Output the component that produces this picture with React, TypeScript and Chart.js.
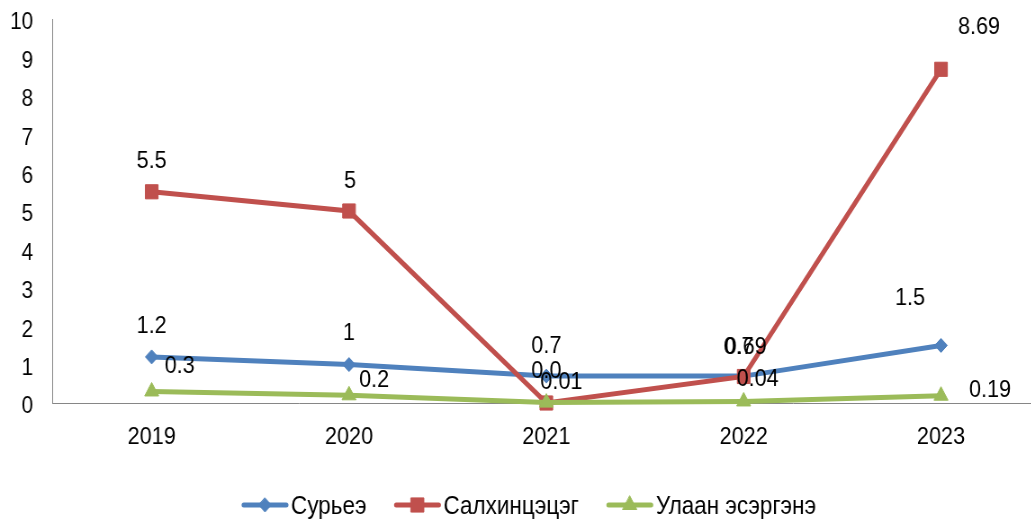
import React, { useEffect, useRef } from 'react';
import { Chart, registerables } from 'chart.js';

Chart.register(...registerables);

// ---- data ----
const years = ['2019', '2020', '2021', '2022', '2023'];
const seriesNames = ['Сурьеэ', 'Салхинцэцэг', 'Улаан эсэргэнэ'];
const suryee = [1.2, 1, 0.7, 0.7, 1.5];
const salkhinTsetseg = [5.5, 5, 0.0, 0.69, 8.69];
const ulaanEsergene = [0.3, 0.2, 0.01, 0.04, 0.19];
const suryeeLabels = ['1.2', '1', '0.7', '0.7', '1.5'];
const salkhinTsetsegLabels = ['5.5', '5', '0.0', '0.69', '8.69'];
const ulaanEsergeneLabels = ['0.3', '0.2', '0.01', '0.04', '0.19'];
const yMin = 0;
const yMax = 10;
const yStep = 1;

// ---- style ----
const S = 0.9; // horizontal compression of the whole picture
const CW = 1163;
const CH = 519;
const FONT = '"Liberation Sans", Arial, sans-serif';
const colors = ['#4F81BD', '#C0504D', '#9BBB59'];
const markers = ['rectRot', 'rect', 'triangle'];
const radii = [7, 10, 9];
// label offsets from the point, in screen px
const labelOffsets = [
  [[0, -31], [0, -31], [0, -30], [-5, -29], [-31, -47]],
  [[0, -30], [1, -30], [0, -32], [2, -29], [38, -42]],
  [[28, -25], [25, -15], [15, -20], [14, -22], [49, -5]],
];

function drawMarker(ctx: CanvasRenderingContext2D, style: string, x: number, y: number, r: number, color: string) {
  ctx.beginPath();
  if (style === 'rectRot') {
    ctx.moveTo(x, y - r);
    ctx.lineTo(x + r, y);
    ctx.lineTo(x, y + r);
    ctx.lineTo(x - r, y);
  } else if (style === 'rect') {
    const h = r * Math.SQRT1_2;
    ctx.rect(x - h, y - h, 2 * h, 2 * h);
  } else {
    ctx.moveTo(x, y - r);
    ctx.lineTo(x + r * 0.866, y + r * 0.5);
    ctx.lineTo(x - r * 0.866, y + r * 0.5);
  }
  ctx.closePath();
  ctx.fillStyle = color;
  ctx.strokeStyle = color;
  ctx.lineWidth = 1;
  ctx.fill();
  ctx.stroke();
}

const dataLabelPlugin = {
  id: 'dataLabelsCustom',
  afterDatasetsDraw(chart: any) {
    const ctx = chart.ctx as CanvasRenderingContext2D;
    const allLabels = [suryeeLabels, salkhinTsetsegLabels, ulaanEsergeneLabels];
    ctx.save();
    ctx.font = `24px ${FONT}`;
    ctx.fillStyle = '#000';
    ctx.textAlign = 'center';
    ctx.textBaseline = 'middle';
    allLabels.forEach((labels, i) => {
      const meta = chart.getDatasetMeta(i);
      meta.data.forEach((el: any, j: number) => {
        const [dx, dy] = labelOffsets[i][j];
        ctx.fillText(labels[j], el.x + dx / S, el.y + dy);
      });
    });
    ctx.restore();
  },
};

const legendPlugin = {
  id: 'lineLegend',
  afterDraw(chart: any) {
    const ctx = chart.ctx as CanvasRenderingContext2D;
    ctx.save();
    ctx.font = `25px ${FONT}`;
    const lineLen = 46 / S;
    const gapText = 3 / S;
    const gapItem = 28 / S;
    const widths = seriesNames.map((n) => ctx.measureText(n).width);
    let x = 242 / S;
    const yLine = 505;
    const yText = 507;
    seriesNames.forEach((name, i) => {
      ctx.strokeStyle = colors[i];
      ctx.lineWidth = 5;
      ctx.lineCap = 'round';
      ctx.beginPath();
      ctx.moveTo(x + 2, yLine);
      ctx.lineTo(x + lineLen - 2, yLine);
      ctx.stroke();
      drawMarker(ctx, markers[i], x + lineLen / 2, yLine, radii[i], colors[i]);
      ctx.fillStyle = '#000';
      ctx.textAlign = 'left';
      ctx.textBaseline = 'middle';
      ctx.fillText(name, x + lineLen + gapText, yText);
      x += lineLen + gapText + widths[i] + gapItem;
    });
    ctx.restore();
  },
};

export default function App() {
  const canvasRef = useRef<HTMLCanvasElement | null>(null);

  useEffect(() => {
    document.body.style.overflow = 'hidden';
    const canvas = canvasRef.current;
    if (!canvas) return;
    const series = [suryee, salkhinTsetseg, ulaanEsergene];
    const chart = new Chart(canvas, {
      type: 'line',
      data: {
        labels: years,
        datasets: series.map((d, i) => ({
          label: seriesNames[i],
          data: d,
          borderColor: colors[i],
          backgroundColor: colors[i],
          borderWidth: 5,
          pointStyle: markers[i] as any,
          pointRadius: radii[i],
          pointHoverRadius: radii[i],
          pointBorderWidth: 1,
          pointBackgroundColor: colors[i],
          pointBorderColor: colors[i],
          tension: 0,
          fill: false,
          clip: false as any,
          order: 2 - i,
        })),
      },
      options: {
        responsive: false,
        animation: false,
        devicePixelRatio: 1,
        layout: { autoPadding: false, padding: { left: 11.3, right: 7.8, top: 19, bottom: 67.2 } },
        plugins: {
          legend: { display: false },
          tooltip: { enabled: false },
        },
        scales: {
          x: {
            type: 'category',
            offset: true,
            grid: { display: false, drawTicks: false },
            border: { display: true, color: '#868686', width: 1 },
            ticks: {
              color: '#000',
              font: { family: FONT, size: 24 },
              padding: 20,
              maxRotation: 0,
              autoSkip: false,
            },
            afterFit: (scale: any) => {
              scale.paddingLeft = 0;
              scale.paddingRight = 0;
              scale.height = 48.8;
            },
          },
          y: {
            min: yMin,
            max: yMax,
            grid: { display: false, drawTicks: false },
            border: { display: true, color: '#868686', width: 1 },
            ticks: {
              stepSize: yStep,
              color: '#000',
              font: { family: FONT, size: 23 },
              padding: 22,
              labelOffset: 4,
            },
            afterFit: (scale: any) => {
              scale.paddingTop = 0;
              scale.paddingBottom = 0;
              scale.width = 47.6;
            },
          },
        },
      },
      plugins: [dataLabelPlugin, legendPlugin],
    });
    return () => chart.destroy();
  }, []);

  return (
    <div style={{ position: 'fixed', left: 0, top: 0, width: CW, height: CH, overflow: 'visible' }}>
      <canvas
        ref={canvasRef}
        width={CW}
        height={CH}
        style={{
          width: CW + 'px',
          height: CH + 'px',
          display: 'block',
          transform: `scaleX(${S})`,
          transformOrigin: '0 0',
        }}
      />
    </div>
  );
}
